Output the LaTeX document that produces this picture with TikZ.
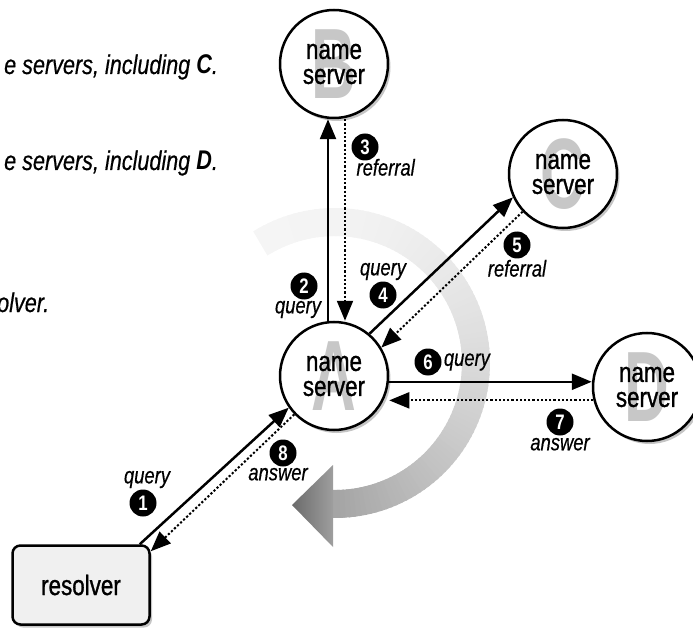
\documentclass[tikz,border=0pt]{standalone}
\usepackage{fontspec}
\setmainfont{Liberation Sans}
\newfontfamily\condfont{Liberation Sans}[FakeStretch=0.8, FakeBold=1]
\newfontfamily\conditfont{Liberation Sans Italic}[FakeStretch=0.8, FakeBold=0.5]
\newfontfamily\condbifont{Liberation Sans Bold Italic}[FakeStretch=0.8]
\newfontfamily\condbfont{Liberation Sans Bold}[FakeStretch=0.8]
\newfontfamily\ghostfont{Liberation Sans Bold}[FakeStretch=0.62]
\usetikzlibrary{arrows.meta,shadows,positioning}

\begin{document}
\begin{tikzpicture}[x=1pt, y=-1pt,
    server/.style={circle, draw, line width=2.5pt, fill=white, minimum size=108pt, inner sep=0pt, align=center,
        font=\condfont\fontsize{28}{25}\selectfont,
        drop shadow={shadow xshift=2.5pt, shadow yshift=-3pt, fill=black!45, opacity=0.5},
        path picture={\node[ghost] (ghost#1) at (path picture bounding box.center) {#1};}},
    ghost/.style={inner sep=0pt, text=black!22, font=\ghostfont\fontsize{100}{100}\selectfont},
    box/.style={rectangle, rounded corners=8pt, draw, line width=2.5pt, fill=black!6, minimum width=137pt, minimum height=79pt,
        font=\condfont\fontsize{28}{30}\selectfont,
        drop shadow={shadow xshift=2.5pt, shadow yshift=-3pt, fill=black!45, opacity=0.5}},
    badge/.style={circle, fill=black, text=white, inner sep=0pt, minimum size=27pt, font=\condbfont\fontsize{21}{21}\selectfont},
    tag/.style={inner sep=1pt, font=\conditfont\fontsize{23}{25}\selectfont},
    note/.style={anchor=base west, inner sep=0pt, font=\conditfont\fontsize{27}{30}\selectfont},
    query/.style={-{Triangle[length=20pt,width=16pt]}, line width=2.5pt},
    reply/.style={-{Triangle[length=20pt,width=16pt]}, line width=2pt, dash pattern=on 2.2pt off 2pt}
]
\useasboundingbox (0,0) rectangle (693,628);

% grey sweep round the first server
\foreach \a in {122,120,...,-88} {
    \pgfmathsetmacro\t{(122-\a)/212}
    \pgfmathsetmacro\p{4+32*\t*\t}
    \draw[line width=28pt, draw=black!\p] ({335+141*cos(\a)},{363-141*sin(\a)}) -- ({335+141*cos(\a-3)},{363-141*sin(\a-3)});
}
\shade[left color=black!58, right color=black!38] (292,505) -- (333,465) -- (333,547) -- cycle;

% cut-off text on the left
\node[note] (t1) at (4,74) {e servers, including {\condbifont C}.};
\node[note] (t2) at (4,170) {e servers, including {\condbifont D}.};
\node[note] (t3) at (-3,312) {olver.};

\node[server=A] (nsA) at (334,376) {name\\server};
\node[server=B] (nsB) at (334,64) {name\\server};
\node[server=C] (nsC) at (563,174) {name\\server};
\node[server=D] (nsD) at (647,387) {name\\server};
\node[box] (res) at (81,585) {resolver};

\draw[query] ([xshift=-11pt]res.north east) -- (nsA.215);
\draw[query] ([xshift=-6pt]nsA.north) -- ([xshift=-6pt]nsB.south);
\draw[reply] ([xshift=11pt]nsB.south) -- ([xshift=11pt]nsA.north);
\draw[query] (nsA.50) -- (nsC.205);
\draw[reply] (nsC.223) -- (nsA.31);
\draw[query] (nsA.-6) -- (nsA.-6 -| nsD.west);
\draw[reply] (nsD.194) -- (nsD.194 -| nsA.east);
\draw[reply] (nsA.224) -- ([yshift=-7pt]res.north east);

\node[badge] (s1) at (143,503) {1};
\node[badge] (s2) at (304,286) {2};
\node[badge] (s3) at (365,147) {3};
\node[badge] (s4) at (383,295) {4};
\node[badge] (s5) at (517,245) {5};
\node[badge] (s6) at (428,362) {6};
\node[badge] (s7) at (560,422) {7};
\node[badge] (s8) at (283,453) {8};

\node[tag, above=0pt of s1, xshift=4pt] (l1) {query};
\node[tag, below=0pt of s2, xshift=-6pt] (l2) {query};
\node[tag, anchor=north west] (l3) at ([yshift=-1pt]s3.south west) {referral};
\node[tag, above=0pt of s4] (l4) {query};
\node[tag, below=0pt of s5] (l5) {referral};
\node[tag, right=1pt of s6] (l6) {query};
\node[tag, below=1pt of s7] (l7) {answer};
\node[tag, below=0pt of s8, xshift=-5pt] (l8) {answer};
\end{tikzpicture}
\end{document}
